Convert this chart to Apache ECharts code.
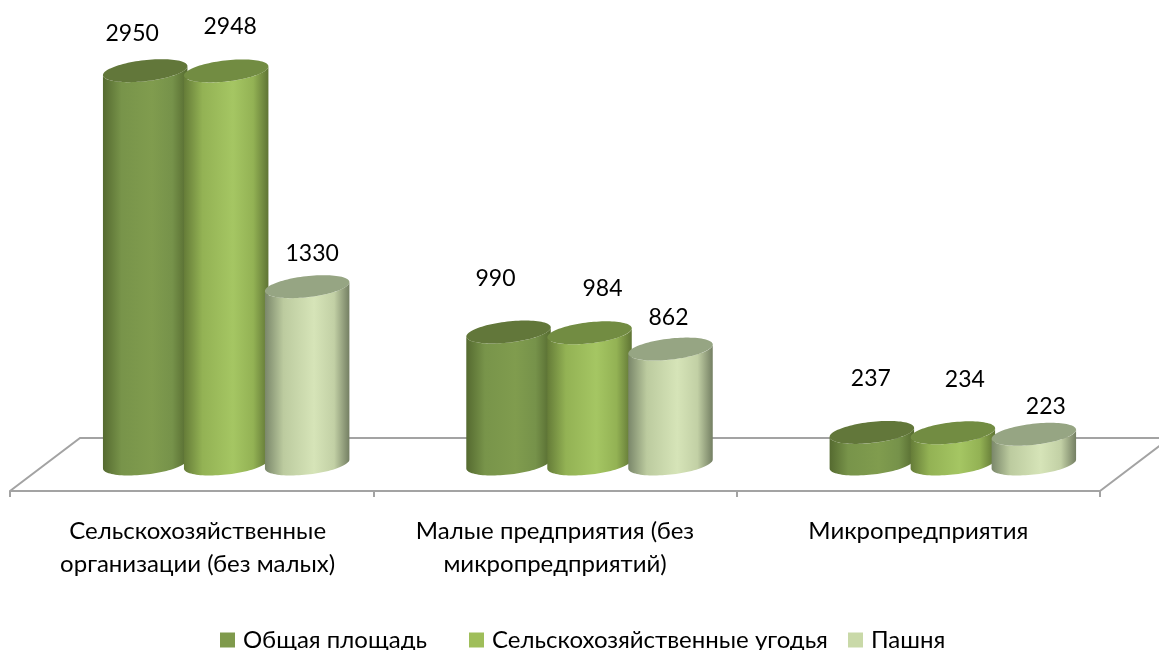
<!DOCTYPE html>
<html><head><meta charset="utf-8">
<style>html,body{margin:0;padding:0;background:#fff}#c{width:1159px;height:650px}</style>
<script src="https://cdn.jsdelivr.net/npm/echarts@6/dist/echarts.min.js"></script>
</head><body><div id="c"></div>
<script>
const categories = ['Сельскохозяйственные\nорганизации (без малых)', 'Малые предприятия (без\nмикропредприятий)', 'Микропредприятия'];
const seriesNames = ['Общая площадь', 'Сельскохозяйственные угодья', 'Пашня'];
const totalArea = [2950, 990, 237];
const farmland = [2948, 984, 234];
const arable = [1330, 862, 223];
const allValues = [totalArea, farmland, arable];

const FONT = 'Lato, "Open Sans", sans-serif';
const labelOffsets = [
  [[-13,-37],[4,-44],[5,-33]],
  [[-13,-53],[13,-44],[-2,-31]],
  [[-1,-54],[12,-53],[12,-28]]
];
const legendLefts = [215, 464, 843];
const looks = [
  {legend:'#7f9a4c', top:'#62773a', stops:['#556a30','#78944a','#809c4e','#76924a','#566b30']},
  {legend:'#9fbe5a', top:'#728c42', stops:['#657c38','#93b254','#a5c663','#93b254','#5f7434']},
  {legend:'#c9d9a8', top:'#96a583', stops:['#7a876a','#bccb9f','#d6e4b8','#c2d0a5','#747f63']}
];
const A = 42.5, B = 10.5, PHI = -6.5 * Math.PI / 180;
function pt(cx, cy, t) {
  const c = Math.cos(t), s = Math.sin(t);
  return [cx + A*c*Math.cos(PHI) - B*s*Math.sin(PHI), cy + A*c*Math.sin(PHI) + B*s*Math.cos(PHI)];
}
const T0 = Math.atan2(-B*Math.sin(PHI), A*Math.cos(PHI));

function cylinder(si) {
  return function (params, api) {
    const cat = api.value(0), val = api.value(1);
    const band = api.size([1, 0])[0];
    const base = api.coord([cat, 0]);
    const top = api.coord([cat, val]);
    const cx = base[0] + band * 0.095 + (si - 1) * band * 0.2229;
    const look = looks[si];
    const body = [], ell = [];
    for (let i = 0; i <= 48; i++) body.push(pt(cx, base[1], T0 + Math.PI * i / 48));
    for (let i = 48; i >= 0; i--) body.push(pt(cx, top[1], T0 + Math.PI * i / 48));
    for (let i = 0; i < 96; i++) ell.push(pt(cx, top[1], 2 * Math.PI * i / 96));
    const off = labelOffsets[cat][si];
    const offs = [0, 0.22, 0.58, 0.82, 1];
    return {type:'group', children:[
      {type:'polygon', shape:{points:body}, style:{fill:{type:'linear',x:0,y:0,x2:1,y2:0,
        colorStops:offs.map((o,i)=>({offset:o,color:look.stops[i]}))}}},
      {type:'polygon', shape:{points:ell}, style:{fill:look.top}},
      {type:'text', z2:10, style:{text:String(val), x:cx+off[0], y:top[1]+off[1], textAlign:'center', textVerticalAlign:'middle', fontFamily:FONT, fontSize:23, fill:'#000'}}
    ]};
  };
}
function floor(params) {
  const cs = params.coordSys;
  const fy = cs.y + cs.height + 27, by = fy - 53;
  const x0 = cs.x, x1 = cs.x + cs.width;
  return {type:'polyline', shape:{points:[[x0,fy],[x0+70,by],[x1+70,by],[x1,fy]]}, style:{stroke:'#a3a3a3', lineWidth:2, fill:null}};
}
const series = [{type:'custom', name:'floor', z:1, silent:true, renderItem:floor, data:[[0,0]]}];
seriesNames.forEach((n, si) => series.push({
  type:'custom', name:n, z:2+si, silent:true, itemStyle:{color:looks[si].legend},
  renderItem:cylinder(si), data:allValues[si].map((v, i) => [i, v])
}));
const chart = echarts.init(document.getElementById('c'), null, {renderer:'canvas'});
chart.setOption({
  animation:false,
  grid:{left:10, width:1090, top:64, height:400},
  xAxis:{type:'category', offset:27, boundaryGap:true,
    data:categories.map((c,i)=> i===0 ? {value:c, textStyle:{padding:[0,0,0,12]}} : c),
    axisLine:{onZero:false, lineStyle:{color:'#a3a3a3', width:2}},
    axisTick:{show:true, length:6, lineStyle:{color:'#a3a3a3', width:2}},
    axisLabel:{interval:0, margin:24, fontFamily:FONT, fontSize:24, lineHeight:33, color:'#000'}},
  yAxis:{type:'value', min:0, max:3000, show:false},
  legend:seriesNames.map((n,i)=>({data:[n], left:legendLefts[i], top:623, icon:'rect', itemWidth:15, itemHeight:15,
    textStyle:{fontFamily:FONT, fontSize:24, color:'#000', padding:[0,0,0,3]}})),
  series
});
</script></body></html>
